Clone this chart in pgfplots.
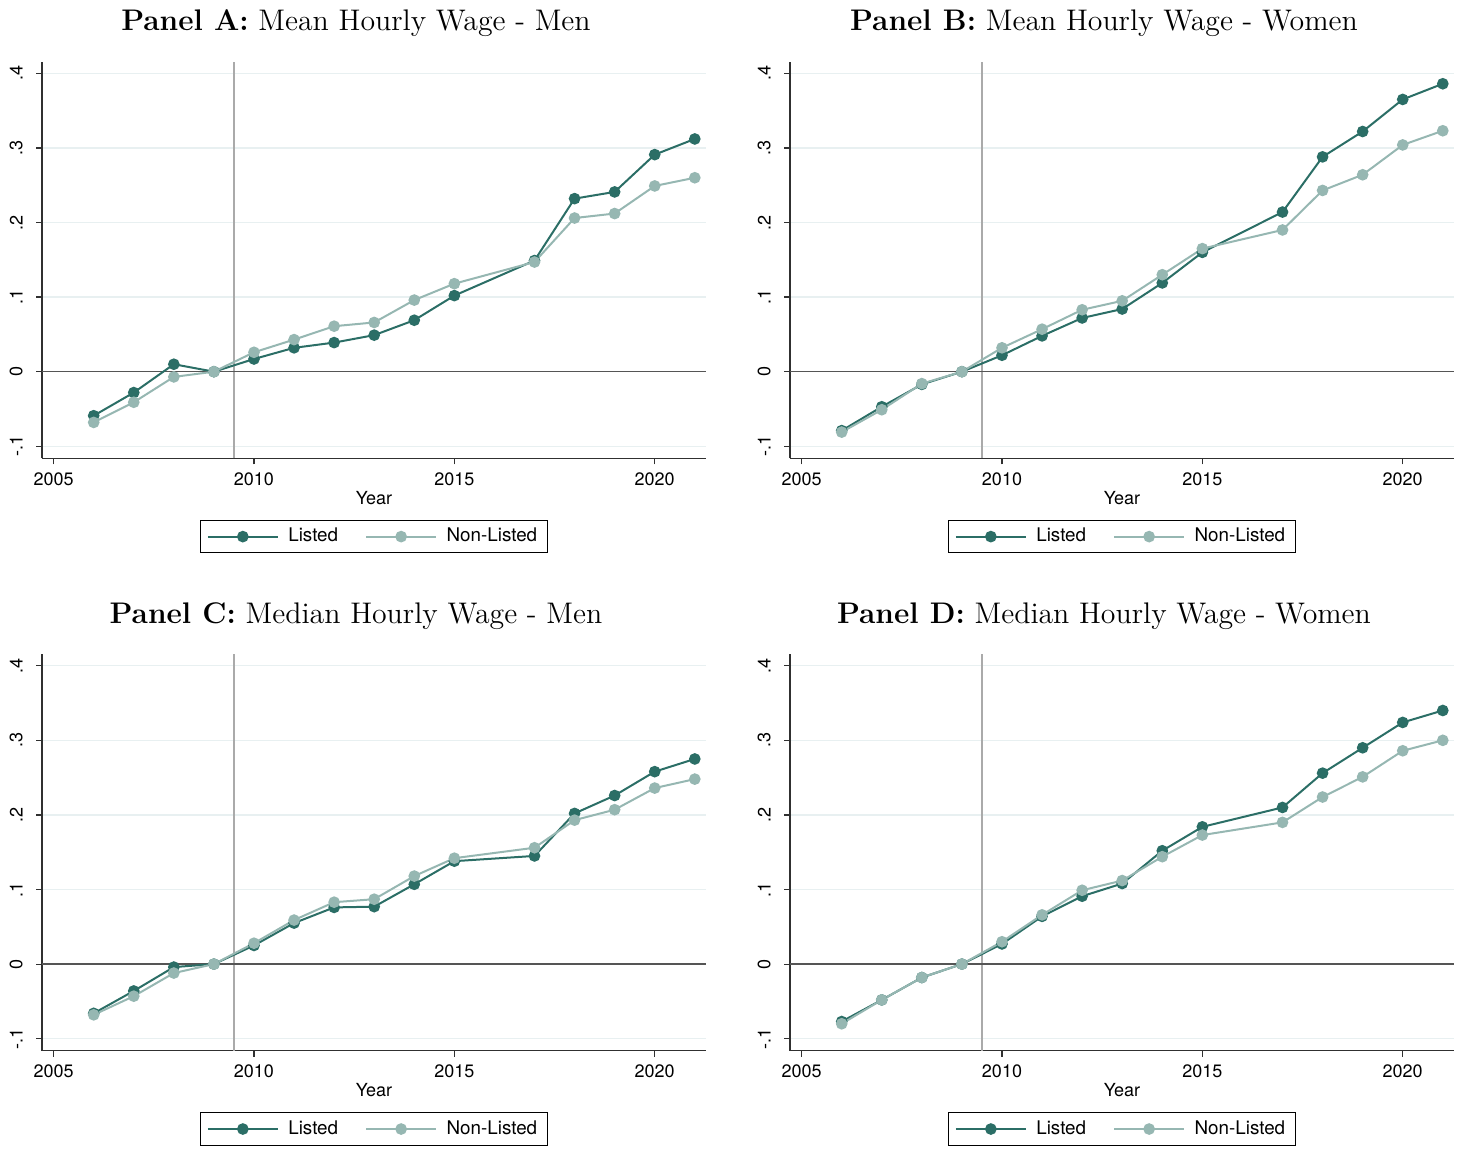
\documentclass[border=0pt]{standalone}
\usepackage{fontspec}
\usepackage{pgfplots}
\usepackage{pgfplotstable}
\pgfplotsset{compat=1.18}
\newfontfamily\helv{TeX Gyre Heros}
\definecolor{darkc}{HTML}{2B6E66}
\definecolor{lightc}{HTML}{96B7B2}
\definecolor{gridc}{HTML}{E8F0F1}
\definecolor{axisc}{HTML}{303030}
\definecolor{zeroc}{HTML}{555555}
\definecolor{vlinec}{HTML}{AAAAAA}

\pgfplotstableread{
year L NL
2006 -0.059 -0.068
2007 -0.028 -0.041
2008 0.010 -0.007
2009 0.000 0.000
2010 0.017 0.026
2011 0.032 0.043
2012 0.039 0.061
2013 0.049 0.066
2014 0.069 0.096
2015 0.102 0.118
2017 0.149 0.147
2018 0.232 0.206
2019 0.241 0.212
2020 0.291 0.249
2021 0.312 0.260
}\panelA
\pgfplotstableread{
year L NL
2006 -0.079 -0.081
2007 -0.047 -0.051
2008 -0.017 -0.016
2009 0.000 0.000
2010 0.022 0.032
2011 0.048 0.057
2012 0.072 0.083
2013 0.084 0.095
2014 0.119 0.130
2015 0.160 0.165
2017 0.214 0.190
2018 0.288 0.243
2019 0.322 0.264
2020 0.365 0.304
2021 0.386 0.323
}\panelB
\pgfplotstableread{
year L NL
2006 -0.066 -0.068
2007 -0.036 -0.043
2008 -0.004 -0.012
2009 0.000 0.000
2010 0.025 0.028
2011 0.055 0.059
2012 0.076 0.083
2013 0.077 0.087
2014 0.107 0.118
2015 0.138 0.142
2017 0.145 0.156
2018 0.202 0.193
2019 0.226 0.207
2020 0.258 0.236
2021 0.275 0.248
}\panelC
\pgfplotstableread{
year L NL
2006 -0.077 -0.080
2007 -0.048 -0.048
2008 -0.018 -0.018
2009 0.000 0.000
2010 0.027 0.030
2011 0.064 0.066
2012 0.091 0.099
2013 0.108 0.112
2014 0.152 0.144
2015 0.184 0.173
2017 0.210 0.190
2018 0.256 0.224
2019 0.290 0.251
2020 0.324 0.286
2021 0.340 0.300
}\panelD

\pgfplotsset{
  panel/.style={
    scale only axis, width=332pt, height=198.3pt,
    xmin=2004.71, xmax=2021.28, ymin=-0.1161, ymax=0.4156,
    axis x line*=bottom, axis y line*=left,
    axis line style={-, draw=axisc, line width=0.75pt},
    xtick={2005,2010,2015,2020},
    xticklabels={2005,2010,2015,2020},
    ytick={-0.1,0,0.1,0.2,0.3,0.4},
    yticklabels={-.1,0,.1,.2,.3,.4},
    tick align=outside, major tick length=3pt,
    tick style={draw=axisc, line width=0.6pt},
    ymajorgrids, grid style={draw=gridc, line width=0.6pt},
    /pgf/number format/assume math mode=true,
    ticklabel style={font=\helv\fontsize{9}{10}\selectfont},
    xticklabel style={anchor=base, yshift=-10.5pt},
    yticklabel style={rotate=90, anchor=south, inner sep=0pt},
    yticklabel shift=6.5pt,
    xlabel={Year},
    xlabel style={at={(axis description cs:0.5,0)}, anchor=base, yshift=-22.9pt, font=\helv\fontsize{9}{10}\selectfont},
    title style={at={(axis description cs:0.5,1)}, anchor=base, yshift=9.5pt, xshift=-9pt, font=\fontsize{14.9}{17}\selectfont},
    legend style={at={(0.5,-0.155)}, anchor=north, legend columns=2, draw=black, line width=0.5pt,
      font=\helv\fontsize{9.4}{11}\selectfont, inner xsep=3pt, inner ysep=2pt,
      /tikz/every odd column/.append style={column sep=2.75pt},
      /tikz/every even column/.append style={column sep=11.5pt}},
    legend cell align=left,
    legend image code/.code={\draw[mark repeat=2,mark phase=2,#1] plot coordinates {(0pt,0pt) (17.5pt,0pt) (35pt,0pt)};},
  },
  ls/.style={color=darkc, line width=1pt, mark=*, mark size=2.4pt, mark options={solid, fill=darkc, draw=darkc}},
  ns/.style={color=lightc, line width=1pt, mark=*, mark size=2.4pt, mark options={solid, fill=lightc, draw=lightc}},
  refl/.style={forget plot, draw=zeroc, line width=0.7pt},
  vl/.style={forget plot, draw=vlinec, line width=0.8pt},
}

\begin{document}
\begin{tikzpicture}
\useasboundingbox (0,0) rectangle (729.5pt,575pt);

\begin{axis}[panel, at={(21pt,345.85pt)}, anchor=south west,
  title={\textbf{Panel A:} Mean Hourly Wage - Men}]
\addplot[vl] coordinates {(2009.5,-0.1161) (2009.5,0.4156)};
\addplot[refl] coordinates {(2004.71,0) (2021.28,0)};
\addplot[ls] table[x=year,y=L] {\panelA};
\addplot[ns] table[x=year,y=NL] {\panelA};
\legend{Listed,Non-Listed}
\end{axis}

\begin{axis}[panel, at={(395pt,345.85pt)}, anchor=south west,
  title={\textbf{Panel B:} Mean Hourly Wage - Women}]
\addplot[vl] coordinates {(2009.5,-0.1161) (2009.5,0.4156)};
\addplot[refl] coordinates {(2004.71,0) (2021.28,0)};
\addplot[ls] table[x=year,y=L] {\panelB};
\addplot[ns] table[x=year,y=NL] {\panelB};
\legend{Listed,Non-Listed}
\end{axis}

\begin{axis}[panel, at={(21pt,49.65pt)}, anchor=south west,
  title={\textbf{Panel C:} Median Hourly Wage - Men}]
\addplot[vl] coordinates {(2009.5,-0.1161) (2009.5,0.4156)};
\addplot[refl] coordinates {(2004.71,0) (2021.28,0)};
\addplot[ls] table[x=year,y=L] {\panelC};
\addplot[ns] table[x=year,y=NL] {\panelC};
\legend{Listed,Non-Listed}
\end{axis}

\begin{axis}[panel, at={(395pt,49.65pt)}, anchor=south west,
  title={\textbf{Panel D:} Median Hourly Wage - Women}]
\addplot[vl] coordinates {(2009.5,-0.1161) (2009.5,0.4156)};
\addplot[refl] coordinates {(2004.71,0) (2021.28,0)};
\addplot[ls] table[x=year,y=L] {\panelD};
\addplot[ns] table[x=year,y=NL] {\panelD};
\legend{Listed,Non-Listed}
\end{axis}
\end{tikzpicture}
\end{document}
